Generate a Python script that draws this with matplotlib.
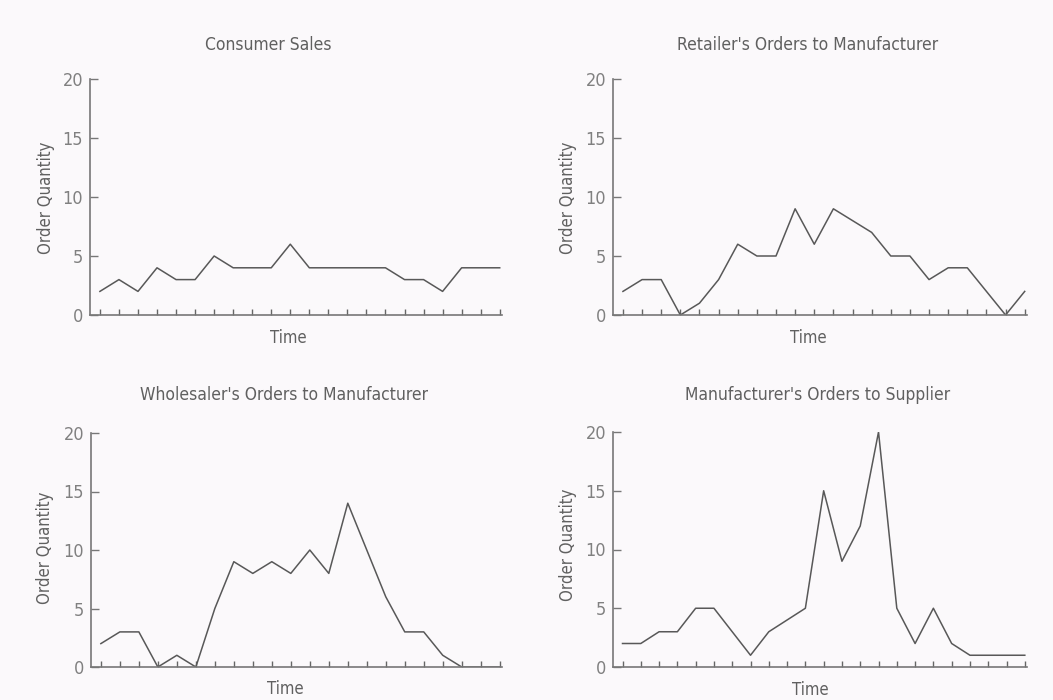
import numpy as np
import matplotlib
matplotlib.use('Agg')
import matplotlib.pyplot as plt

plt.rcParams['font.family'] = ['DejaVu Sans']
plt.rcParams['font.stretch'] = 'condensed'

# order quantities per period
consumer = [2, 3, 2, 4, 3, 3, 5, 4, 4, 4, 6, 4, 4, 4, 4, 4, 3, 3, 2, 4, 4, 4]
retailer = [2, 3, 3, 0, 1, 3, 6, 5, 5, 9, 6, 9, 8, 7, 5, 5, 3, 4, 4, 2, 0, 2]
wholesaler = [2, 3, 3, 0, 1, 0, 5, 9, 8, 9, 8, 10, 8, 14, 10, 6, 3, 3, 1, 0, 0, 0]
manufacturer = [2, 2, 3, 3, 5, 5, 3, 1, 3, 4, 5, 15, 9, 12, 20, 5, 2, 5, 2, 1, 1, 1, 1]

titles = ['Consumer Sales', "Retailer's Orders to Manufacturer",
          "Wholesaler's Orders to Manufacturer", "Manufacturer's Orders to Supplier"]
series = [consumer, retailer, wholesaler, manufacturer]
yticks = [0, 5, 10, 15, 20]

W, H = 1053, 700
fig = plt.figure(figsize=(W / 100, H / 100), dpi=100)
fig.patch.set_facecolor('#fbf9fb')

# axes boxes in pixels: left, right, top(y20), bottom(y0)
boxes = [(90, 502, 79, 315), (613, 1027, 79, 315),
         (91, 502, 433, 667), (613, 1027, 432, 667)]
# title centre, "Time" centre, "Order Quantity" centre (pixels)
title_pos = [(268, 45), (808, 45), (284, 395), (818, 395)]
time_pos = [(288, 338), (808, 338), (285, 689), (810, 690)]
ylab_pos = [(46, 198), (568, 198), (45, 548), (568, 545)]

txt = '#606060'
for i in range(4):
    l, r, t, b = boxes[i]
    ax = fig.add_axes([l / W, 1 - b / H, (r - l) / W, (b - t) / H])
    ax.set_facecolor('none')
    vals = series[i]
    x = np.arange(len(vals))
    ax.plot(x, vals, color='#585858', lw=1.1)
    ax.set_xlim(-0.52, len(vals) - 1 + 0.12)
    ax.set_ylim(0, 20)
    ax.set_xticks(x)
    ax.set_xticklabels([])
    ax.set_yticks(yticks)
    ax.set_yticklabels([str(v) for v in yticks], fontsize=13, color='#808080')
    ax.tick_params(axis='x', direction='in', length=4, width=1, color='#666666')
    ax.tick_params(axis='y', direction='in', length=6, width=1, color='#777777', pad=5)
    for s in ['top', 'right']:
        ax.spines[s].set_visible(False)
    for s in ['left', 'bottom']:
        ax.spines[s].set_color('#777777')
        ax.spines[s].set_linewidth(1.2)
    ax.spines['left'].set_bounds(0, 20)

    fig.text(title_pos[i][0] / W, 1 - title_pos[i][1] / H, titles[i],
             ha='center', va='center', fontsize=12.5, color=txt)
    fig.text(time_pos[i][0] / W, 1 - time_pos[i][1] / H, 'Time',
             ha='center', va='center', fontsize=12, color=txt)
    fig.text(ylab_pos[i][0] / W, 1 - ylab_pos[i][1] / H, 'Order Quantity',
             ha='center', va='center', rotation=90, fontsize=12, color=txt)

fig.savefig('out.png', dpi=100, facecolor=fig.get_facecolor())
